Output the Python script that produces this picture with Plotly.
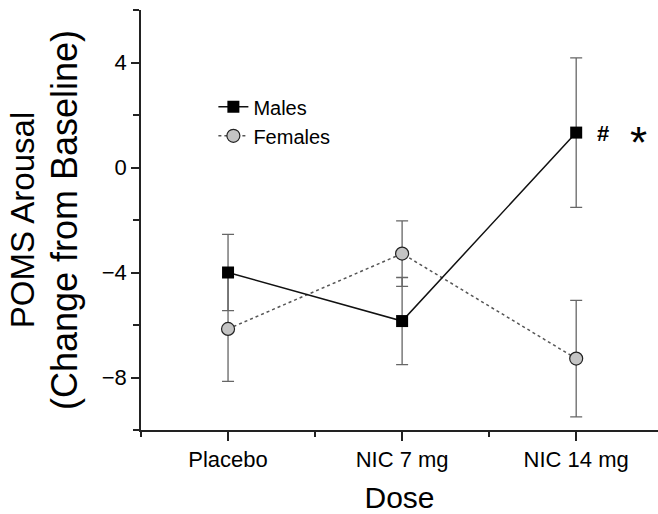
import plotly.graph_objects as go

categories = ["Placebo", "NIC 7 mg", "NIC 14 mg"]
males_mean = [-4.0, -5.85, 1.33]
males_err = [1.45, 1.66, 2.85]
females_mean = [-6.15, -3.28, -7.28]
females_err = [2.0, 1.25, 2.22]
y_tick_vals = [-8, -4, 0, 4]

xpos = list(range(len(categories)))
FONT = "Liberation Sans, Arial, Helvetica, sans-serif"

fig = go.Figure()
fig.add_trace(go.Scatter(
    x=xpos, y=females_mean, name="Females", mode="lines+markers",
    line=dict(color="#555555", width=1.5, dash="dot"),
    marker=dict(symbol="circle", size=13, color="#c4c4c4", line=dict(color="#222222", width=1.2)),
    error_y=dict(type="data", array=females_err, visible=True, color="#666666", thickness=1.3, width=6),
))
fig.add_trace(go.Scatter(
    x=xpos, y=males_mean, name="Males", mode="lines+markers",
    line=dict(color="#111111", width=1.5),
    marker=dict(symbol="square", size=12, color="#000000"),
    error_y=dict(type="data", array=males_err, visible=True, color="#666666", thickness=1.3, width=6),
))

fig.add_annotation(x=2.155, y=males_mean[2], xref="x", yref="y", text="<b>#</b>", showarrow=False,
                   font=dict(family=FONT, size=22, color="black"), yshift=-1)
fig.add_annotation(x=2.36, y=males_mean[2], xref="x", yref="y", text="*", showarrow=False,
                   font=dict(family=FONT, size=44, color="black"), yshift=-10)

fig.update_layout(
    width=658, height=514,
    margin=dict(l=141, r=0, t=10, b=84),
    plot_bgcolor="white", paper_bgcolor="white",
    font=dict(family=FONT, color="black"),
    showlegend=True,
    legend=dict(x=0.14, y=0.816, xanchor="left", yanchor="top", traceorder="reversed",
                font=dict(family=FONT, size=20, color="black"), bgcolor="rgba(0,0,0,0)",
                tracegroupgap=0, itemwidth=30),
    xaxis=dict(
        range=[-0.5, 2.47], tickmode="array", tickvals=xpos, ticktext=categories,
        showline=True, linecolor="#222222", linewidth=1.5, showgrid=False, zeroline=False,
        ticks="outside", ticklen=9, tickwidth=1.5, tickcolor="#222222",
        tickfont=dict(family=FONT, size=22, color="black"),
        minor=dict(tickvals=[-0.5, 0.5, 1.5], ticks="outside", ticklen=5, tickwidth=1.5, tickcolor="#222222", showgrid=False),
        title=dict(text="Dose", font=dict(family=FONT, size=30, color="black"), standoff=16),
    ),
    yaxis=dict(
        range=[-10, 6], tickmode="array", tickvals=y_tick_vals,
        showline=True, linecolor="#222222", linewidth=1.5, showgrid=False, zeroline=False,
        ticks="outside", ticklen=8, tickwidth=1.5, tickcolor="#222222",
        tickfont=dict(family=FONT, size=22, color="black"),
        minor=dict(tickvals=[-10, -6, -2, 2, 6], ticks="outside", ticklen=6, tickwidth=1.5, tickcolor="#222222", showgrid=False),
        title=dict(text="POMS Arousal<br><span style='font-size:36px'>(Change from Baseline)</span>",
                   font=dict(family=FONT, size=33, color="black"), standoff=14),
    ),
)

fig.write_html("out.html")
